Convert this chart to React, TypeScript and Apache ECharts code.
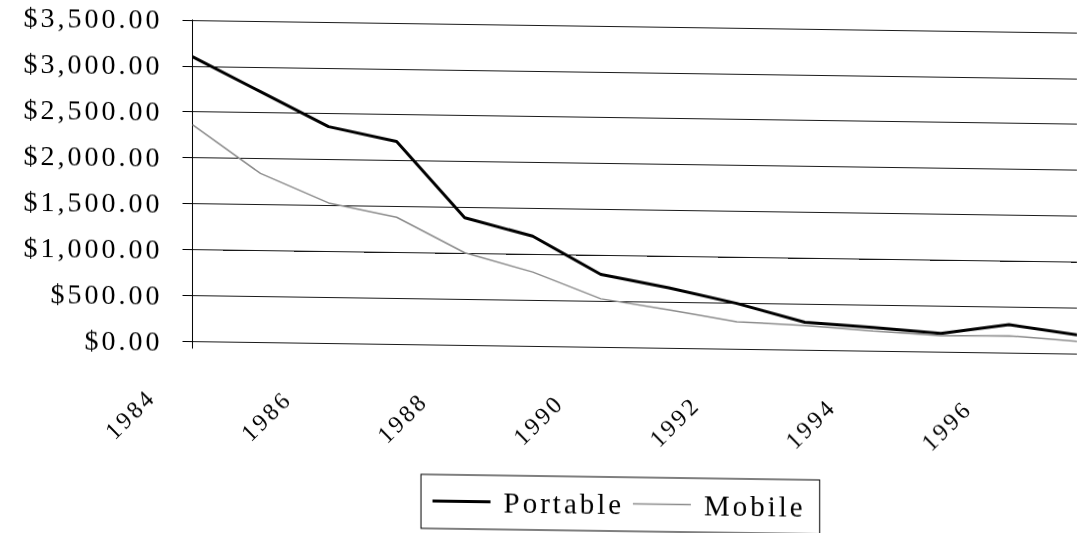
import React, { useEffect, useRef } from "react";
import * as echarts from "echarts";

// Categories (years)
const years = ["1984", "1985", "1986", "1987", "1988", "1989", "1990", "1991", "1992", "1993", "1994", "1995", "1996", "1997"];
// Series values (US$)
const portable = [3100, 2730, 2360, 2210, 1390, 1200, 795, 660, 500, 305, 260, 205, 310, 210];
const mobile = [2360, 1840, 1530, 1385, 1010, 810, 530, 420, 300, 270, 220, 180, 190, 140];
// Value axis ticks
const yMin = 0;
const yMax = 3500;
const yStep = 500;
const seriesNames = ["Portable", "Mobile"];

const money = (v: number) =>
  "$" + Number(v).toLocaleString("en-US", { minimumFractionDigits: 2, maximumFractionDigits: 2 });

export default function App() {
  const ref = useRef<HTMLDivElement>(null);

  useEffect(() => {
    if (!ref.current) return;
    const chart = echarts.init(ref.current, undefined, { renderer: "svg" });
    const font = "'Liberation Serif', 'Times New Roman', serif";
    chart.setOption({
      animation: false,
      backgroundColor: "#ffffff",
      textStyle: { fontFamily: font, color: "#000" },
      grid: { left: 192.5, right: 0, top: 24.8, bottom: 186.4, containLabel: false },
      xAxis: {
        type: "category",
        data: years,
        boundaryGap: false,
        axisLine: { show: false },
        axisTick: {
          show: true,
          length: 7,
          interval: (i: number) => i === 0,
          lineStyle: { color: "#000", width: 1 },
        },
        axisLabel: {
          interval: 1,
          rotate: 45,
          margin: 11,
          padding: [0, 58, 0, 0],
          fontSize: 24,
          color: "#000",
          fontFamily: font,
        },
        splitLine: { show: false },
      },
      yAxis: {
        type: "value",
        min: yMin,
        max: yMax,
        interval: yStep,
        axisLine: { show: true, lineStyle: { color: "#000", width: 1 } },
        axisTick: { show: true, length: 10, lineStyle: { color: "#000", width: 1 } },
        axisLabel: {
          margin: 30,
          fontSize: 28,
          color: "#000",
          fontFamily: font,
          padding: [7, 0, 0, 0],
          formatter: (v: number) => money(v),
        },
        splitLine: { show: true, lineStyle: { color: "#1a1a1a", width: 1.2 } },
      },
      legend: {
        left: 421,
        top: 476,
        orient: "horizontal",
        itemWidth: 58,
        itemHeight: 14,
        itemGap: 32,
        padding: [12, 32, 13, 10],
        borderColor: "#000",
        borderWidth: 1,
        borderRadius: 0,
        data: seriesNames,
        itemStyle: { color: "rgba(0,0,0,0)", borderWidth: 0, borderColor: "rgba(0,0,0,0)" },
        lineStyle: { width: "inherit" },
        textStyle: { fontSize: 29, fontFamily: font, color: "#000", padding: [0, 0, 0, 8] },
      },
      series: [
        {
          name: seriesNames[0],
          type: "line",
          data: portable,
          symbol: "none",
          color: "#000",
          lineStyle: { color: "#000", width: 3 },
        },
        {
          name: seriesNames[1],
          type: "line",
          data: mobile,
          symbol: "none",
          color: "#8c8c8c",
          lineStyle: { color: "#8c8c8c", width: 1.5 },
        },
      ],
    });
    return () => chart.dispose();
  }, []);

  return (
    <div
      ref={ref}
      style={{
        position: "fixed",
        left: 0,
        top: 0,
        width: 1077,
        height: 533,
        background: "#fff",
        letterSpacing: "3px",
        transform: "skewY(0.81deg)",
        transformOrigin: "538.5px 266.5px",
      }}
    />
  );
}
